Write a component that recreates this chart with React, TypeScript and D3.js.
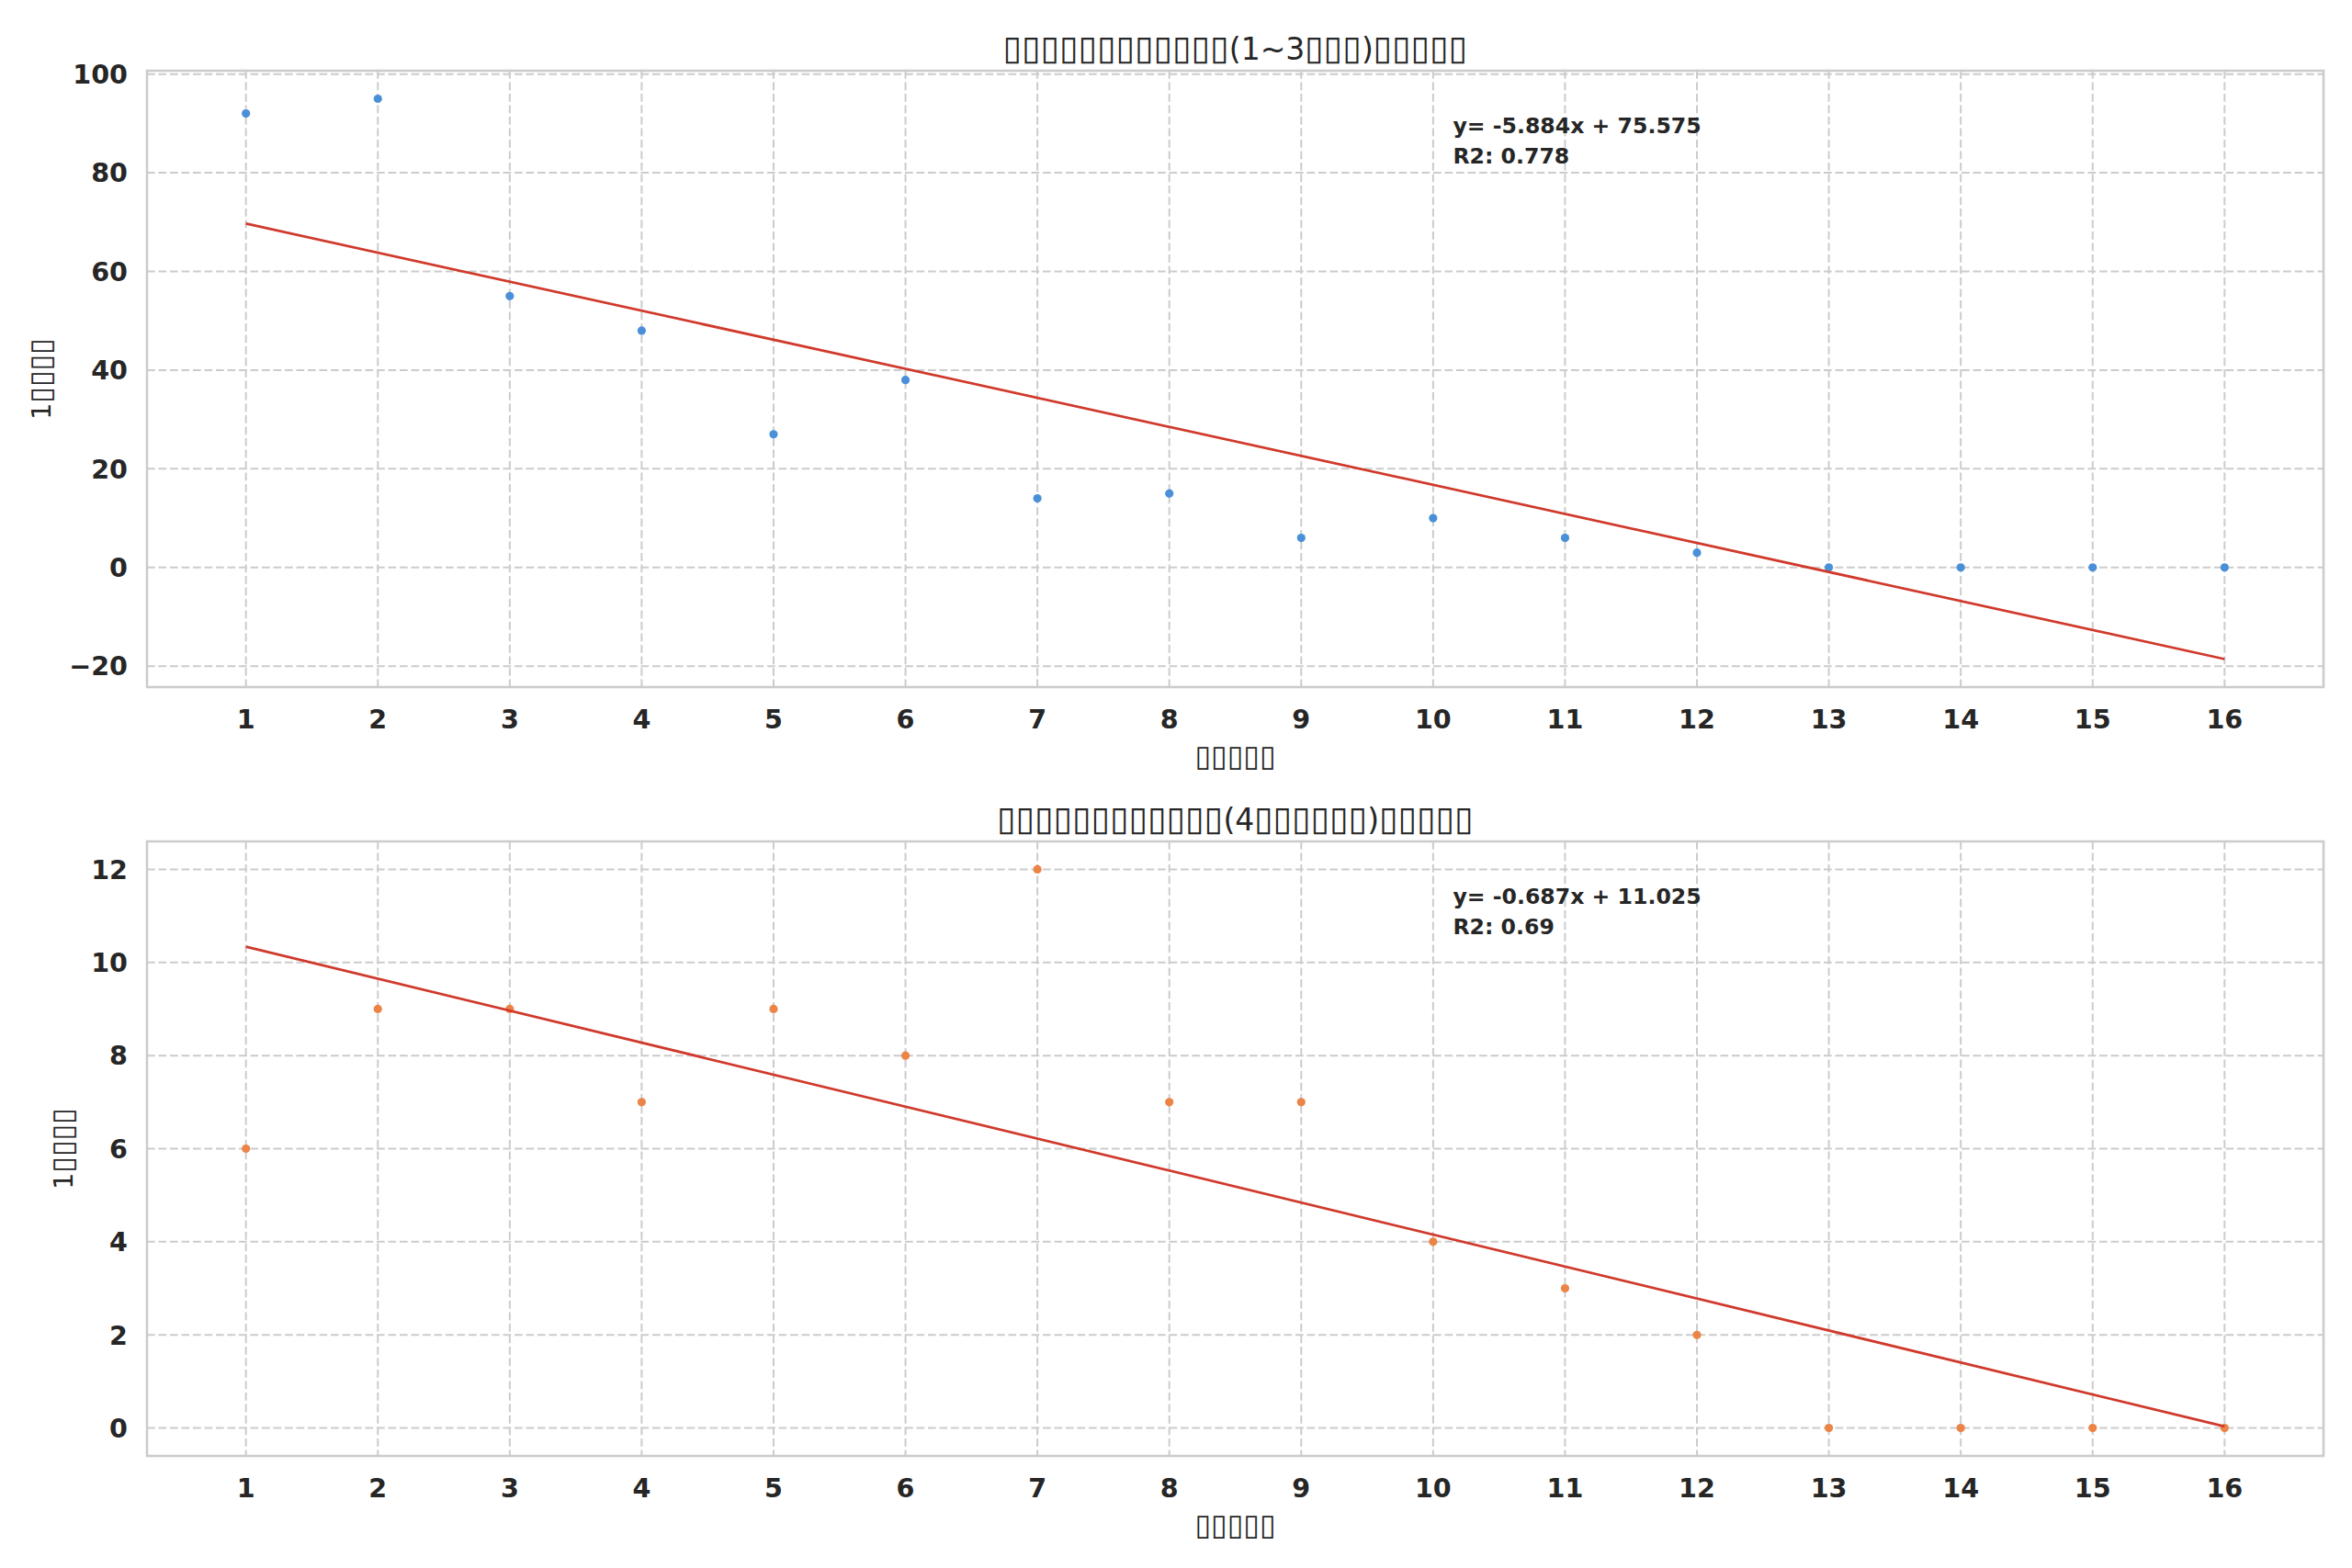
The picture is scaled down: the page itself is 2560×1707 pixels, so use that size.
import { useEffect, useRef } from "react";
import * as d3 from "d3";

// months since signup (x axis)
const months = [1, 2, 3, 4, 5, 6, 7, 8, 9, 10, 11, 12, 13, 14, 15, 16];

// panel 1: 1~3 range
const shortValues = [92, 95, 55, 48, 27, 38, 14, 15, 6, 10, 6, 3, 0, 0, 0, 0];
const shortTicks = [-20, 0, 20, 40, 60, 80, 100];
const shortFit = [-5.884, 75.575, 0.778]; // slope, intercept, r2

// panel 2: 4+ range
const longValues = [6, 9, 9, 7, 9, 8, 12, 7, 7, 4, 3, 2, 0, 0, 0, 0];
const longTicks = [0, 2, 4, 6, 8, 10, 12];
const longFit = [-0.687, 11.025, 0.69];

// titles / labels (glyphs missing in the source render, shown as boxes)
const BOX = "\u25AF";
const shortTitle = BOX.repeat(12) + "(1~3" + BOX.repeat(3) + ")" + BOX.repeat(5);
const longTitle = BOX.repeat(12) + "(4" + BOX.repeat(6) + ")" + BOX.repeat(5);
const xLabel = BOX.repeat(5);
const yLabel = "1" + BOX.repeat(4);

const W = 2560;
const H = 1707;
const FONT = "DejaVu Sans";
const TEXT = "#262626";
const GRID = "#cccccc";

type Panel = {
  top: number;
  bottom: number;
  values: number[];
  ticks: number[];
  fit: number[];
  color: string;
  title: string;
  yLabelX: number;
};

// box runs are drawn a bit larger so they match the width of the missing-glyph boxes
function richText(sel: d3.Selection<SVGTextElement, unknown, null, undefined>, str: string, size: number) {
  str
    .split(/(\u25AF+)/)
    .filter((s) => s.length > 0)
    .forEach((part) => {
      sel
        .append("tspan")
        .attr("font-size", part[0] === BOX ? size * 1.13 : size)
        .text(part);
    });
}

export default function App() {
  const svgRef = useRef<SVGSVGElement>(null);

  useEffect(() => {
    if (!svgRef.current) return;
    const svg = d3.select(svgRef.current);
    svg.selectAll("*").remove();

    const left = 160;
    const right = 2529;

    const panels: Panel[] = [
      { top: 77, bottom: 748, values: shortValues, ticks: shortTicks, fit: shortFit, color: "#4a90d9", title: shortTitle, yLabelX: 49 },
      { top: 916, bottom: 1585, values: longValues, ticks: longTicks, fit: longFit, color: "#ec8448", title: longTitle, yLabelX: 73 },
    ];

    const x = d3.scaleLinear().domain([0.25, 16.75]).range([left, right]);

    panels.forEach((p) => {
      const [slope, intercept, r2] = p.fit;
      const fitLine = months.map((m) => [m, slope * m + intercept] as [number, number]);
      const all = p.values.concat(fitLine.map((d) => d[1]));
      const lo = d3.min(all)!;
      const hi = d3.max(all)!;
      const pad = (hi - lo) * 0.05;
      const y = d3.scaleLinear().domain([lo - pad, hi + pad]).range([p.bottom, p.top]);

      const g = svg.append("g");

      // grid
      g.selectAll(".gx")
        .data(months)
        .join("line")
        .attr("x1", (d) => x(d))
        .attr("x2", (d) => x(d))
        .attr("y1", p.top)
        .attr("y2", p.bottom)
        .attr("stroke", GRID)
        .attr("stroke-width", 2)
        .attr("stroke-dasharray", "8.7,3.8");

      g.selectAll(".gy")
        .data(p.ticks)
        .join("line")
        .attr("x1", left)
        .attr("x2", right)
        .attr("y1", (d) => y(d))
        .attr("y2", (d) => y(d))
        .attr("stroke", GRID)
        .attr("stroke-width", 2)
        .attr("stroke-dasharray", "8.7,3.8");

      // spines
      g.append("rect")
        .attr("x", left)
        .attr("y", p.top)
        .attr("width", right - left)
        .attr("height", p.bottom - p.top)
        .attr("fill", "none")
        .attr("stroke", GRID)
        .attr("stroke-width", 2.6);

      // points
      g.selectAll(".pt")
        .data(p.values)
        .join("circle")
        .attr("cx", (_d, i) => x(months[i]))
        .attr("cy", (d) => y(d))
        .attr("r", 4.6)
        .attr("fill", p.color);

      // regression line
      g.append("path")
        .datum([fitLine[0], fitLine[fitLine.length - 1]])
        .attr("fill", "none")
        .attr("stroke", "#d0392b")
        .attr("stroke-width", 2.7)
        .attr("d", d3.line<[number, number]>().x((d) => x(d[0])).y((d) => y(d[1])));

      // tick labels
      g.selectAll(".xt")
        .data(months)
        .join("text")
        .attr("x", (d) => x(d))
        .attr("y", p.bottom + 45)
        .attr("text-anchor", "middle")
        .attr("font-family", FONT)
        .attr("font-weight", "bold")
        .attr("font-size", 28.6)
        .attr("fill", TEXT)
        .text((d) => String(d));

      g.selectAll(".yt")
        .data(p.ticks)
        .join("text")
        .attr("x", 139)
        .attr("y", (d) => y(d))
        .attr("dy", "0.36em")
        .attr("text-anchor", "end")
        .attr("font-family", FONT)
        .attr("font-weight", "bold")
        .attr("font-size", 28.6)
        .attr("fill", TEXT)
        .text((d) => (d < 0 ? "\u2212" + Math.abs(d) : String(d)));

      // axis labels
      const xl = g.append("text")
        .attr("x", (left + right) / 2)
        .attr("y", p.bottom + 86)
        .attr("text-anchor", "middle")
        .attr("font-family", FONT)
        .attr("fill", TEXT);
      richText(xl, xLabel, 28.3);

      const yl = g.append("text")
        .attr("transform", `translate(${p.yLabelX},${(p.top + p.bottom) / 2}) rotate(-90)`)
        .attr("dy", "0.36em")
        .attr("text-anchor", "middle")
        .attr("font-family", FONT)
        .attr("fill", TEXT);
      richText(yl, yLabel, 28.3);

      // title
      const tl = g.append("text")
        .attr("x", (left + right) / 2)
        .attr("y", p.top - 12)
        .attr("text-anchor", "middle")
        .attr("font-family", FONT)
        .attr("fill", TEXT);
      richText(tl, p.title, 33);

      // fit annotation
      const ax = left + 0.6 * (right - left);
      const note = g.append("text")
        .attr("font-family", FONT)
        .attr("font-weight", "bold")
        .attr("font-size", 23.6)
        .attr("fill", TEXT);
      note.append("tspan").attr("x", ax).attr("y", p.top + 68).text(`y= ${slope}x + ${intercept}`);
      note.append("tspan").attr("x", ax).attr("y", p.top + 101).text(`R2: ${r2}`);
    });
  }, []);

  return (
    <svg
      ref={svgRef}
      width={W}
      height={H}
      style={{ position: "absolute", left: 0, top: 0, background: "#ffffff" }}
    />
  );
}
